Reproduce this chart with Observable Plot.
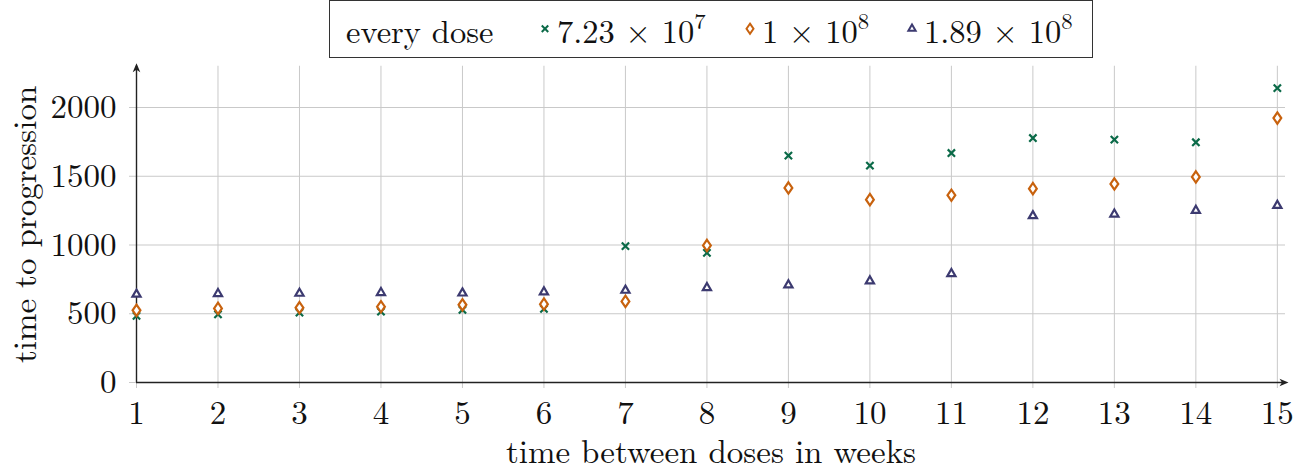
<!DOCTYPE html>
<html>
<head>
<meta charset="utf-8">
<script src="https://cdn.jsdelivr.net/npm/d3@7"></script>
<script src="https://cdn.jsdelivr.net/npm/@observablehq/plot@0.6"></script>
<style>
  body { margin: 0; background: #fff; }
  #wrap { position: relative; width: 1299px; height: 471px; overflow: hidden; }
  #legend { position: absolute; left: 329px; top: 0; width: 764px; height: 58px; box-sizing: border-box;
            border: 1.6px solid #333; background: #fff; font-size: 32.5px; color: #111; }
  .li { position: absolute; top: 50%; transform: translateY(-50%); white-space: nowrap; line-height: 1; }
  .li svg { position: absolute; left: 0; top: 50%; transform: translateY(-50%); overflow: visible; }
  sup { font-size: 0.7em; vertical-align: 0.6em; line-height: 0; }
</style>
</head>
<body>
<div id="wrap"><div id="chart"></div><div id="legend"></div></div>
<script>
// ---- data ----
const weeks   = [1, 2, 3, 4, 5, 6, 7, 8, 9, 10, 11, 12, 13, 14, 15];
const dose723 = [484, 496, 508, 515, 529, 536, 992, 943, 1650, 1577, 1669, 1778, 1766, 1747, 2141];
const dose1e8 = [525, 539, 544, 551, 565, 570, 590, 997, 1415, 1330, 1362, 1410, 1444, 1495, 1923];
const dose189 = [641, 646, 648, 653, 650, 658, 670, 689, 709, 738, 791, 1212, 1224, 1251, 1287];
const yTicks  = [0, 500, 1000, 1500, 2000];
const xDomain = [1, 15.1];
const yDomain = [0, 2300];
const legendTitle = "every dose";
const legendBase = ["7.23 × 10", "1 × 10", "1.89 × 10"];
const legendExp  = ["7", "8", "8"];
const xLabel = "time between doses in weeks";
const yLabel = "time to progression";

const colors = ["#0b6a48", "#c8620e", "#3c3a70"];
const FONT = "'Latin Modern Roman', 'Liberation Serif', serif";
const FS = 33;

// symbols
const diamondSym = { draw(ctx, size) { const r = Math.sqrt(size / Math.PI); const w = r, h = r * 1.45;
  ctx.moveTo(0, -h); ctx.lineTo(w, 0); ctx.lineTo(0, h); ctx.lineTo(-w, 0); ctx.closePath(); } };
const arrowSym = { draw(ctx) { ctx.moveTo(3, 0); ctx.lineTo(-6, -3.8); ctx.lineTo(-3.5, 0); ctx.lineTo(-6, 3.8); ctx.closePath(); } };
const symbols = [d3.symbolTimes, diamondSym, d3.symbolTriangle2];
const radii = [3.4, 3.9, 3.9];
const fills = ["none", "white", "white"];

const seriesValues = [dose723, dose1e8, dose189];
const tables = seriesValues.map(vals => weeks.map((w, i) => ({ week: w, value: vals[i] })));

const chart = Plot.plot({
  width: 1299, height: 471,
  marginLeft: 136, marginRight: 14, marginTop: 65.75, marginBottom: 89,
  x: { domain: xDomain },
  y: { domain: yDomain },
  marks: [
    Plot.gridX(weeks, { stroke: "#c9c9c9", strokeOpacity: 1, strokeWidth: 1 }),
    Plot.gridY(yTicks, { stroke: "#c9c9c9", strokeOpacity: 1, strokeWidth: 1 }),
    Plot.axisX(weeks, { tickSize: 6, tickPadding: 12, stroke: "#c9c9c9", fill: "#111", fontSize: FS, label: null, tickFormat: d => String(d) }),
    Plot.axisY(yTicks, { tickSize: 7, tickPadding: 13, stroke: "#c9c9c9", fill: "#111", fontSize: FS, label: null, tickFormat: d => String(d) }),
    Plot.ruleY([yDomain[0]], { stroke: "#222", strokeWidth: 1.4 }),
    Plot.ruleX([xDomain[0]], { stroke: "#222", strokeWidth: 1.4 }),
    Plot.dot([{ x: xDomain[1], y: yDomain[0] }], { x: "x", y: "y", symbol: arrowSym, fill: "#222", stroke: "none" }),
    Plot.dot([{ x: xDomain[0], y: yDomain[1] }], { x: "x", y: "y", symbol: arrowSym, fill: "#222", stroke: "none", rotate: -90 }),
    ...tables.map((t, k) => Plot.dot(t, { x: "week", y: "value", symbol: symbols[k], r: radii[k],
        stroke: colors[k], fill: fills[k], strokeWidth: 2.2 })),
    Plot.text([xLabel], { frameAnchor: "bottom", dy: 70, text: d => d, fontSize: FS, fill: "#111", lineAnchor: "middle" }),
    Plot.text([yLabel], { frameAnchor: "left", dx: -111, rotate: -90, textAnchor: "middle", text: d => d, fontSize: FS, fill: "#111" })
  ]
});
chart.style.fontFamily = FONT;
chart.querySelectorAll("text").forEach(t => { t.style.fontFamily = FONT; t.setAttribute("font-family", FONT); });
document.getElementById("chart").appendChild(chart);

// ---- legend ----
const legend = d3.select("#legend").style("font-family", FONT);
legend.append("span").attr("class", "li").style("left", "16px").style("font-family", FONT).text(legendTitle);
const markerLefts = [216, 421, 583];
legendBase.forEach((b, k) => {
  const item = legend.append("span").attr("class", "li").style("font-family", FONT)
    .style("left", (markerLefts[k] - 8) + "px").style("padding-left", "19px");
  const svg = item.append("svg").attr("width", 14).attr("height", 14).attr("viewBox", "-7 -7 14 14");
  svg.append("path").attr("d", d3.symbol(symbols[k], Math.PI * radii[k] * radii[k] * 0.8)())
     .attr("fill", fills[k]).attr("stroke", colors[k]).attr("stroke-width", 2);
  item.append("span").text(b);
  item.append("sup").text(legendExp[k]);
});
</script>
</body>
</html>
